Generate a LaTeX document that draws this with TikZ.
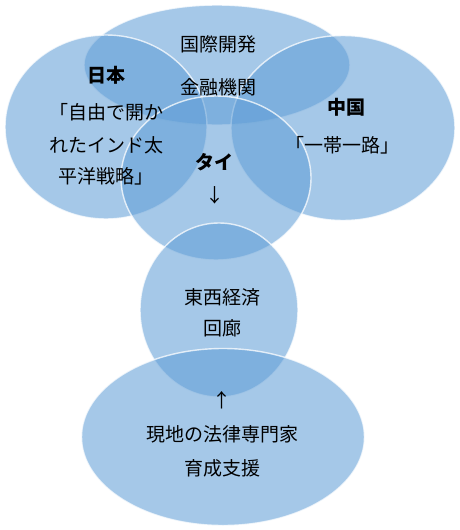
\documentclass[tikz,border=0pt]{standalone}
\usepackage{fontspec}
\setmainfont{Noto Sans CJK JP}
\usetikzlibrary{shapes.geometric}
\definecolor{bub}{RGB}{95,157,214}
\tikzset{
  bubble/.style={ellipse, fill=bub, fill opacity=0.56, draw=white, draw opacity=0.75, line width=1.4pt, inner sep=0pt},
  lbl/.style={font=\fontsize{19}{19}\selectfont, text=black, inner sep=0pt},
  hd/.style={font=\fontsize{19}{19}\selectfont\bfseries, text=black, inner sep=0pt}
}
\begin{document}
\begin{tikzpicture}[x=1pt,y=-1pt]
\useasboundingbox (0,0) rectangle (460,530);
% bubbles
\node[bubble, minimum width=266pt, minimum height=120pt] (top) at (217,65) {};
\node[bubble, minimum width=202pt, minimum height=184pt] (jp) at (106,127) {};
\node[bubble, minimum width=224pt, minimum height=185pt] (cn) at (343,128) {};
\node[bubble, minimum width=190pt, minimum height=164pt] (th) at (216,178) {};
\node[bubble, minimum width=158pt, minimum height=174pt] (ew) at (219,310) {};
\node[bubble, minimum width=283pt, minimum height=177pt] (lg) at (223,437) {};
% texts
\node[lbl] (t1) at (218,44) {国際開発};
\node[lbl] (t2) at (218,87) {金融機関};
\node[hd] (j1) at (106,75) {日本};
\node[lbl] (j2) at (106,112) {「自由で開か};
\node[lbl] (j3) at (106,145) {れたインド太};
\node[lbl] (j4) at (106,176) {平洋戦略」};
\node[hd] (c1) at (346,107) {中国};
\node[lbl] (c2) at (342,145) {「一帯一路」};
\node[hd] (h1) at (214,162) {タイ};
\node[lbl] (h2) at (215,195) {↓};
\node[lbl] (e1) at (222,297) {東西経済};
\node[lbl] (e2) at (222,328) {回廊};
\node[lbl] (l0) at (222,400) {↑};
\node[lbl] (l1) at (222,434) {現地の法律専門家};
\node[lbl] (l2) at (222,468) {育成支援};
\end{tikzpicture}
\end{document}
